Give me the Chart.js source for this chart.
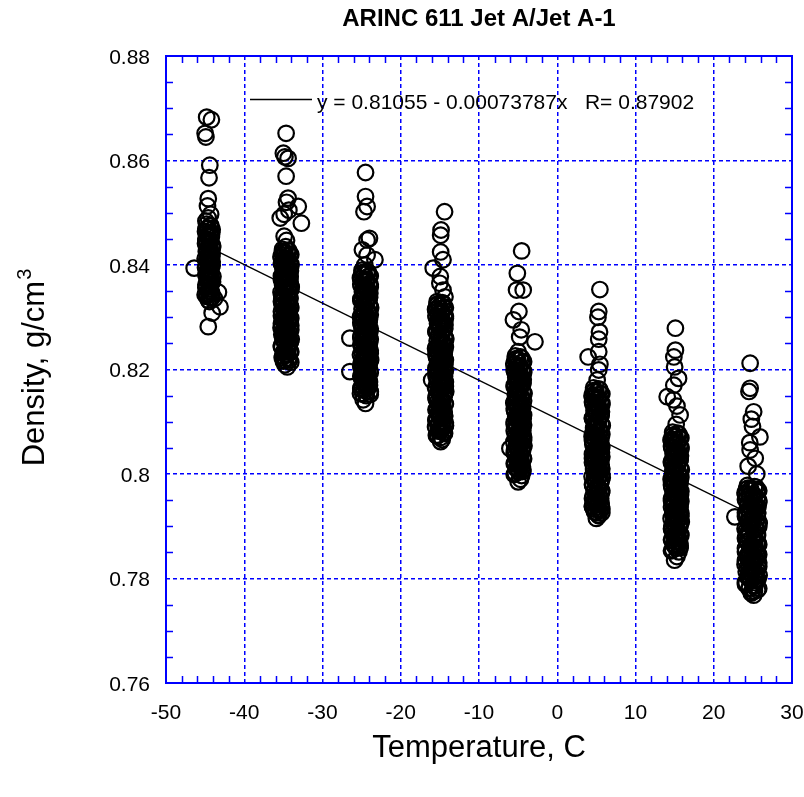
<!DOCTYPE html>
<html>
<head>
<meta charset="utf-8">
<title>ARINC 611 Jet A/Jet A-1</title>
<script src="https://cdn.jsdelivr.net/npm/chart.js@4.4.1/dist/chart.umd.min.js"></script>
<style>
  html, body { margin: 0; padding: 0; background: #ffffff; }
  #wrap { width: 804px; height: 797px; }
</style>
</head>
<body>
<div id="wrap"><canvas id="c" width="804" height="797"></canvas></div>
<script>
// ---- text ----
const chartTitle = 'ARINC 611 Jet A/Jet A-1';
const xTitle = 'Temperature, C';
const yTitle = 'Density, g/cm';
const yTitleSup = '3';

// ---- axes ----
const xRange = [-50, 30];
const xStep = 10;
const xMinorStep = 2;
const yRange = [0.76, 0.88];
const yStep = 0.02;
const yMinorStep = 0.005;

// ---- linear fit: density = a + b * T ----
const fitIntercept = 0.81055;
const fitSlope = -0.00073787;
const fitR = 0.87902;
const fitSpan = [-45.5, 26];

// ---- density samples, [temperature C, density g/cm3], grouped by test temperature ----
const atMinus45 = [
  [-44.8,0.8683],[-44.2,0.8678],[-45.0,0.8652],[-44.9,0.8645],[-44.4,0.8591],[-44.5,0.8567],
  [-44.6,0.8527],[-44.7,0.8513],[-44.3,0.8497],[-44.6,0.8490],[-44.9,0.8484],[-46.4,0.8394],
  [-43.3,0.8348],[-43.1,0.8320],[-44.6,0.8282],[-44.1,0.8308],[-43.8,0.8336],
  [-44.8,0.8478],[-44.25,0.8475],[-44.6,0.8471],[-44.1,0.8468],[-44.95,0.8464],[-44.45,0.8461],
  [-44.7,0.8457],[-44.2,0.8454],[-44.9,0.8450],[-44.5,0.8447],[-44.3,0.8444],[-44.75,0.8440],
  [-44.05,0.8437],[-44.55,0.8433],[-44.35,0.8430],[-44.85,0.8426],[-44.4,0.8423],[-44.65,0.8419],
  [-44.15,0.8416],[-45.0,0.8412],[-44.8,0.8409],[-44.25,0.8406],[-44.6,0.8402],[-44.1,0.8399],
  [-44.95,0.8395],[-44.45,0.8392],[-44.7,0.8388],[-44.2,0.8385],[-44.9,0.8381],[-44.5,0.8378],
  [-44.3,0.8375],[-44.75,0.8371],[-44.05,0.8368],[-44.55,0.8364],[-44.35,0.8361],[-44.85,0.8357],
  [-44.4,0.8354],[-44.65,0.8350],[-44.15,0.8347],[-45.0,0.8343],[-44.8,0.8340],[-44.25,0.8337],
  [-44.6,0.8333],[-44.45,0.8330],
  [-44.35,0.8476],[-44.9,0.8469],[-44.15,0.8462],[-44.65,0.8455],[-44.45,0.8448],[-44.95,0.8441],
  [-44.05,0.8434],[-44.75,0.8427],[-44.25,0.8420],[-44.55,0.8413],[-44.1,0.8406],[-44.85,0.8399],
  [-44.4,0.8392],[-44.7,0.8385],[-44.0,0.8378],[-44.6,0.8371],[-44.2,0.8364],[-44.9,0.8357],
  [-44.3,0.8350],[-44.75,0.8343],
  [-44.75,0.8470],[-44.2,0.8458],[-44.9,0.8446],[-44.4,0.8434],[-44.1,0.8422],[-44.6,0.8410],
  [-44.3,0.8398],[-44.75,0.8386],[-44.2,0.8374],[-44.9,0.8362],[-44.4,0.8350],[-44.1,0.8338]
];
const atMinus35 = [
  [-34.65,0.8652],[-35.0,0.8614],[-34.8,0.8607],[-34.4,0.8604],[-34.65,0.8570],[-34.4,0.8528],
  [-34.6,0.8520],[-33.1,0.8512],[-34.3,0.8505],[-35.4,0.8490],[-34.9,0.8497],[-32.7,0.8480],
  [-34.9,0.8455],[-34.6,0.8447],[-34.7,0.8435],[-34.5,0.8205],[-34.8,0.8209],
  [-35.1,0.8430],[-34.3,0.8427],[-34.8,0.8423],[-34.05,0.8420],[-35.3,0.8416],[-34.55,0.8413],
  [-34.95,0.8410],[-34.2,0.8406],[-35.2,0.8403],[-34.65,0.8399],[-34.4,0.8396],[-35.05,0.8393],
  [-34.1,0.8389],[-34.75,0.8386],[-34.35,0.8382],[-35.25,0.8379],[-34.5,0.8376],[-34.9,0.8372],
  [-34.15,0.8369],[-34.7,0.8365],[-35.1,0.8362],[-34.3,0.8359],[-34.8,0.8355],[-34.05,0.8352],
  [-35.3,0.8348],[-34.55,0.8345],[-34.95,0.8342],[-34.2,0.8338],[-35.2,0.8335],[-34.65,0.8331],
  [-34.4,0.8328],[-35.05,0.8325],[-34.1,0.8321],[-34.75,0.8318],[-34.35,0.8314],[-35.25,0.8311],
  [-34.5,0.8308],[-34.9,0.8304],[-34.15,0.8301],[-34.7,0.8297],[-35.1,0.8294],[-34.3,0.8291],
  [-34.8,0.8287],[-34.05,0.8284],[-35.3,0.8280],[-34.55,0.8277],[-34.95,0.8274],[-34.2,0.8270],
  [-35.2,0.8267],[-34.65,0.8263],[-34.4,0.8260],[-35.05,0.8257],[-34.1,0.8253],[-34.75,0.8250],
  [-34.35,0.8246],[-35.25,0.8243],[-34.5,0.8240],[-34.9,0.8236],[-34.15,0.8233],[-34.7,0.8229],
  [-35.1,0.8226],[-34.3,0.8222],[-34.8,0.8218],[-34.05,0.8214],
  [-34.45,0.8428],[-35.15,0.8423],[-34.2,0.8418],[-34.85,0.8413],[-34.6,0.8408],[-35.25,0.8403],
  [-34.05,0.8398],[-35.0,0.8393],[-34.35,0.8388],[-34.7,0.8383],[-34.15,0.8378],[-35.1,0.8373],
  [-34.55,0.8368],[-34.9,0.8363],[-34.0,0.8358],[-34.8,0.8353],[-34.25,0.8348],[-35.2,0.8343],
  [-34.4,0.8338],[-34.95,0.8333],[-34.45,0.8328],[-35.15,0.8323],[-34.2,0.8318],[-34.85,0.8313],
  [-34.6,0.8308],[-35.25,0.8303],[-34.05,0.8298],[-35.0,0.8293],[-34.35,0.8288],[-34.7,0.8283],
  [-34.15,0.8278],[-35.1,0.8273],[-34.55,0.8268],[-34.9,0.8263],[-34.0,0.8258],[-34.8,0.8253],
  [-34.25,0.8248],[-35.2,0.8243],[-34.4,0.8238],[-34.95,0.8233],[-34.45,0.8228],[-35.15,0.8223],
  [-34.2,0.8218],
  [-35.0,0.8426],[-34.15,0.8420],[-35.25,0.8414],[-34.5,0.8408],[-34.05,0.8402],[-34.75,0.8396],
  [-34.3,0.8390],[-35.0,0.8384],[-34.15,0.8378],[-35.25,0.8372],[-34.5,0.8366],[-34.05,0.8360],
  [-34.75,0.8354],[-34.3,0.8348],[-35.0,0.8342],[-34.15,0.8336],[-35.25,0.8330],[-34.5,0.8324],
  [-34.05,0.8318],[-34.75,0.8312],[-34.3,0.8306],[-35.0,0.8300],[-34.15,0.8294],[-35.25,0.8288],
  [-34.5,0.8282],[-34.05,0.8276],[-34.75,0.8270],[-34.3,0.8264],[-35.0,0.8258],[-34.15,0.8252],
  [-35.25,0.8246],[-34.5,0.8240],[-34.05,0.8234],[-34.75,0.8228],[-34.3,0.8222],[-35.0,0.8216]
];
const atMinus25 = [
  [-24.5,0.8577],[-24.5,0.8531],[-24.7,0.8502],[-24.3,0.8512],[-24.3,0.8448],[-24.0,0.8451],
  [-24.9,0.8429],[-23.3,0.8410],[-24.3,0.8419],[-24.6,0.8400],[-26.5,0.8260],[-26.5,0.8196],
  [-24.5,0.8135],[-24.8,0.8142],
  [-24.95,0.8390],[-24.15,0.8386],[-24.65,0.8383],[-23.9,0.8379],[-25.15,0.8375],[-24.4,0.8372],
  [-24.8,0.8368],[-24.05,0.8364],[-25.05,0.8360],[-24.5,0.8357],[-24.25,0.8353],[-24.9,0.8349],
  [-23.95,0.8346],[-24.6,0.8342],[-24.2,0.8338],[-25.1,0.8335],[-24.35,0.8331],[-24.75,0.8327],
  [-24.0,0.8324],[-24.55,0.8320],[-24.95,0.8316],[-24.15,0.8312],[-24.65,0.8309],[-23.9,0.8305],
  [-25.15,0.8301],[-24.4,0.8298],[-24.8,0.8294],[-24.05,0.8290],[-25.05,0.8287],[-24.5,0.8283],
  [-24.25,0.8279],[-24.9,0.8276],[-23.95,0.8272],[-24.6,0.8268],[-24.2,0.8264],[-25.1,0.8261],
  [-24.35,0.8257],[-24.75,0.8253],[-24.0,0.8250],[-24.55,0.8246],[-24.95,0.8242],[-24.15,0.8239],
  [-24.65,0.8235],[-23.9,0.8231],[-25.15,0.8228],[-24.4,0.8224],[-24.8,0.8220],[-24.05,0.8216],
  [-25.05,0.8213],[-24.5,0.8209],[-24.25,0.8205],[-24.9,0.8202],[-23.95,0.8198],[-24.6,0.8194],
  [-24.2,0.8191],[-25.1,0.8187],[-24.35,0.8183],[-24.75,0.8180],[-24.0,0.8176],[-24.55,0.8172],
  [-24.95,0.8168],[-24.15,0.8165],[-24.65,0.8161],[-23.9,0.8157],[-25.15,0.8154],[-24.4,0.8150],
  [-24.3,0.8388],[-25.0,0.8383],[-24.05,0.8378],[-24.7,0.8373],[-24.45,0.8368],[-25.1,0.8363],
  [-23.9,0.8358],[-24.85,0.8353],[-24.2,0.8348],[-24.55,0.8343],[-24.0,0.8338],[-24.95,0.8333],
  [-24.4,0.8328],[-24.75,0.8323],[-23.85,0.8318],[-24.65,0.8313],[-24.1,0.8308],[-25.05,0.8303],
  [-24.25,0.8298],[-24.8,0.8293],[-24.3,0.8288],[-25.0,0.8283],[-24.05,0.8278],[-24.7,0.8273],
  [-24.45,0.8268],[-25.1,0.8263],[-23.9,0.8258],[-24.85,0.8253],[-24.2,0.8248],[-24.55,0.8243],
  [-24.0,0.8238],[-24.95,0.8233],[-24.4,0.8228],[-24.75,0.8223],[-23.85,0.8218],[-24.65,0.8213],
  [-24.1,0.8208],[-25.05,0.8203],[-24.25,0.8198],[-24.8,0.8193],[-24.3,0.8188],[-25.0,0.8183],
  [-24.05,0.8178],[-24.7,0.8173],[-24.45,0.8168],[-25.1,0.8163],[-23.9,0.8158],[-24.85,0.8153],
  [-24.85,0.8386],[-24.0,0.8380],[-25.1,0.8374],[-24.35,0.8368],[-23.9,0.8362],[-24.6,0.8356],
  [-24.15,0.8350],[-24.85,0.8344],[-24.0,0.8338],[-25.1,0.8332],[-24.35,0.8326],[-23.9,0.8320],
  [-24.6,0.8314],[-24.15,0.8308],[-24.85,0.8302],[-24.0,0.8296],[-25.1,0.8290],[-24.35,0.8284],
  [-23.9,0.8278],[-24.6,0.8272],[-24.15,0.8266],[-24.85,0.8260],[-24.0,0.8254],[-25.1,0.8248],
  [-24.35,0.8242],[-23.9,0.8236],[-24.6,0.8230],[-24.15,0.8224],[-24.85,0.8218],[-24.0,0.8212],
  [-25.1,0.8206],[-24.35,0.8200],[-23.9,0.8194],[-24.6,0.8188],[-24.15,0.8182],[-24.85,0.8176],
  [-24.0,0.8170],[-25.1,0.8164],[-24.35,0.8158],[-23.9,0.8152]
];
const atMinus15 = [
  [-14.4,0.8502],[-14.85,0.8467],[-14.9,0.8457],[-14.9,0.8425],[-14.6,0.8410],[-15.85,0.8394],
  [-14.95,0.8378],[-14.6,0.8352],[-14.35,0.8339],[-15.0,0.8365],[-16.05,0.8180],[-14.9,0.8062],
  [-14.7,0.8066],
  [-15.35,0.8330],[-14.55,0.8326],[-15.05,0.8322],[-14.3,0.8318],[-15.55,0.8315],[-14.8,0.8311],
  [-15.2,0.8307],[-14.45,0.8303],[-15.45,0.8300],[-14.9,0.8296],[-14.65,0.8292],[-15.3,0.8288],
  [-14.35,0.8285],[-15.0,0.8281],[-14.6,0.8277],[-15.5,0.8273],[-14.75,0.8270],[-15.15,0.8266],
  [-14.4,0.8262],[-14.95,0.8258],[-15.35,0.8255],[-14.55,0.8251],[-15.05,0.8247],[-14.3,0.8243],
  [-15.55,0.8240],[-14.8,0.8236],[-15.2,0.8232],[-14.45,0.8228],[-15.45,0.8225],[-14.9,0.8221],
  [-14.65,0.8217],[-15.3,0.8213],[-14.35,0.8210],[-15.0,0.8206],[-14.6,0.8202],[-15.5,0.8198],
  [-14.75,0.8195],[-15.15,0.8191],[-14.4,0.8187],[-14.95,0.8183],[-15.35,0.8180],[-14.55,0.8176],
  [-15.05,0.8172],[-14.3,0.8168],[-15.55,0.8165],[-14.8,0.8161],[-15.2,0.8157],[-14.45,0.8153],
  [-15.45,0.8150],[-14.9,0.8146],[-14.65,0.8142],[-15.3,0.8138],[-14.35,0.8135],[-15.0,0.8131],
  [-14.6,0.8127],[-15.5,0.8123],[-14.75,0.8120],[-15.15,0.8116],[-14.4,0.8112],[-14.95,0.8108],
  [-15.35,0.8105],[-14.55,0.8101],[-15.05,0.8097],[-14.3,0.8093],[-15.55,0.8090],[-14.8,0.8086],
  [-15.2,0.8082],[-14.45,0.8078],[-15.45,0.8074],[-14.9,0.8070],
  [-14.7,0.8328],[-15.4,0.8323],[-14.45,0.8318],[-15.1,0.8313],[-14.85,0.8308],[-15.5,0.8303],
  [-14.3,0.8298],[-15.25,0.8293],[-14.6,0.8288],[-14.95,0.8283],[-14.4,0.8278],[-15.35,0.8273],
  [-14.8,0.8268],[-15.15,0.8263],[-14.25,0.8258],[-15.05,0.8253],[-14.5,0.8248],[-15.45,0.8243],
  [-14.65,0.8238],[-15.2,0.8233],[-14.7,0.8228],[-15.4,0.8223],[-14.45,0.8218],[-15.1,0.8213],
  [-14.85,0.8208],[-15.5,0.8203],[-14.3,0.8198],[-15.25,0.8193],[-14.6,0.8188],[-14.95,0.8183],
  [-14.4,0.8178],[-15.35,0.8173],[-14.8,0.8168],[-15.15,0.8163],[-14.25,0.8158],[-15.05,0.8153],
  [-14.5,0.8148],[-15.45,0.8143],[-14.65,0.8138],[-15.2,0.8133],[-14.7,0.8128],[-15.4,0.8123],
  [-14.45,0.8118],[-15.1,0.8113],[-14.85,0.8108],[-15.5,0.8103],[-14.3,0.8098],[-15.25,0.8093],
  [-14.6,0.8088],[-14.95,0.8083],[-14.4,0.8078],[-15.35,0.8073],
  [-15.25,0.8326],[-14.4,0.8320],[-15.5,0.8314],[-14.75,0.8308],[-14.3,0.8302],[-15.0,0.8296],
  [-14.55,0.8290],[-15.25,0.8284],[-14.4,0.8278],[-15.5,0.8272],[-14.75,0.8266],[-14.3,0.8260],
  [-15.0,0.8254],[-14.55,0.8248],[-15.25,0.8242],[-14.4,0.8236],[-15.5,0.8230],[-14.75,0.8224],
  [-14.3,0.8218],[-15.0,0.8212],[-14.55,0.8206],[-15.25,0.8200],[-14.4,0.8194],[-15.5,0.8188],
  [-14.75,0.8182],[-14.3,0.8176],[-15.0,0.8170],[-14.55,0.8164],[-15.25,0.8158],[-14.4,0.8152],
  [-15.5,0.8146],[-14.75,0.8140],[-14.3,0.8134],[-15.0,0.8128],[-14.55,0.8122],[-15.25,0.8116],
  [-14.4,0.8110],[-15.5,0.8104],[-14.75,0.8098],[-14.3,0.8092],[-15.0,0.8086],[-14.55,0.8080],
  [-15.25,0.8074]
];
const atMinus5 = [
  [-4.55,0.8427],[-5.1,0.8384],[-5.2,0.8352],[-4.35,0.8352],[-4.9,0.8311],[-5.6,0.8295],
  [-4.6,0.8276],[-4.8,0.8262],[-2.85,0.8253],[-5.0,0.8234],[-6.05,0.8049],[-5.0,0.7985],
  [-4.7,0.7990],
  [-5.35,0.8226],[-4.55,0.8222],[-5.05,0.8218],[-4.3,0.8215],[-5.55,0.8211],[-4.8,0.8207],
  [-5.2,0.8203],[-4.45,0.8200],[-5.45,0.8196],[-4.9,0.8192],[-4.65,0.8188],[-5.3,0.8185],
  [-4.35,0.8181],[-5.0,0.8177],[-4.6,0.8173],[-5.5,0.8170],[-4.75,0.8166],[-5.15,0.8162],
  [-4.4,0.8158],[-4.95,0.8155],[-5.35,0.8151],[-4.55,0.8147],[-5.05,0.8143],[-4.3,0.8140],
  [-5.55,0.8136],[-4.8,0.8132],[-5.2,0.8128],[-4.45,0.8125],[-5.45,0.8121],[-4.9,0.8117],
  [-4.65,0.8113],[-5.3,0.8110],[-4.35,0.8106],[-5.0,0.8102],[-4.6,0.8098],[-5.5,0.8095],
  [-4.75,0.8091],[-5.15,0.8087],[-4.4,0.8083],[-4.95,0.8080],[-5.35,0.8076],[-4.55,0.8072],
  [-5.05,0.8068],[-4.3,0.8065],[-5.55,0.8061],[-4.8,0.8057],[-5.2,0.8053],[-4.45,0.8050],
  [-5.45,0.8046],[-4.9,0.8042],[-4.65,0.8038],[-5.3,0.8035],[-4.35,0.8031],[-5.0,0.8027],
  [-4.6,0.8023],[-5.5,0.8020],[-4.75,0.8016],[-5.15,0.8012],[-4.4,0.8008],[-4.95,0.8005],
  [-5.35,0.8001],[-4.55,0.7997],
  [-4.7,0.8224],[-5.4,0.8219],[-4.45,0.8214],[-5.1,0.8209],[-4.85,0.8204],[-5.5,0.8199],
  [-4.3,0.8194],[-5.25,0.8189],[-4.6,0.8184],[-4.95,0.8179],[-4.4,0.8174],[-5.35,0.8169],
  [-4.8,0.8164],[-5.15,0.8159],[-4.25,0.8154],[-5.05,0.8149],[-4.5,0.8144],[-5.45,0.8139],
  [-4.65,0.8134],[-5.2,0.8129],[-4.7,0.8124],[-5.4,0.8119],[-4.45,0.8114],[-5.1,0.8109],
  [-4.85,0.8104],[-5.5,0.8099],[-4.3,0.8094],[-5.25,0.8089],[-4.6,0.8084],[-4.95,0.8079],
  [-4.4,0.8074],[-5.35,0.8069],[-4.8,0.8064],[-5.15,0.8059],[-4.25,0.8054],[-5.05,0.8049],
  [-4.5,0.8044],[-5.45,0.8039],[-4.65,0.8034],[-5.2,0.8029],[-4.7,0.8024],[-5.4,0.8019],
  [-4.45,0.8014],[-5.1,0.8009],[-4.85,0.8004],[-5.5,0.7999],
  [-5.25,0.8221],[-4.4,0.8215],[-5.5,0.8209],[-4.75,0.8203],[-4.3,0.8197],[-5.0,0.8191],
  [-4.55,0.8185],[-5.25,0.8179],[-4.4,0.8173],[-5.5,0.8167],[-4.75,0.8161],[-4.3,0.8155],
  [-5.0,0.8149],[-4.55,0.8143],[-5.25,0.8137],[-4.4,0.8131],[-5.5,0.8125],[-4.75,0.8119],
  [-4.3,0.8113],[-5.0,0.8107],[-4.55,0.8101],[-5.25,0.8095],[-4.4,0.8089],[-5.5,0.8083],
  [-4.75,0.8077],[-4.3,0.8071],[-5.0,0.8065],[-4.55,0.8059],[-5.25,0.8053],[-4.4,0.8047],
  [-5.5,0.8041],[-4.75,0.8035],[-4.3,0.8029],[-5.0,0.8023],[-4.55,0.8017],[-5.25,0.8011],
  [-4.4,0.8005]
];
const atPlus5 = [
  [5.45,0.8353],[5.3,0.8311],[5.2,0.8300],[5.4,0.8272],[5.3,0.8258],[3.95,0.8224],
  [5.3,0.8234],[5.45,0.8210],[5.3,0.8199],[5.1,0.8180],[5.0,0.7915],[5.3,0.7920],
  [4.65,0.8165],[5.45,0.8161],[4.95,0.8157],[5.7,0.8153],[4.45,0.8150],[5.2,0.8146],
  [4.8,0.8142],[5.55,0.8138],[4.55,0.8134],[5.1,0.8130],[5.35,0.8126],[4.7,0.8122],
  [5.65,0.8119],[5.0,0.8115],[5.4,0.8111],[4.5,0.8107],[5.25,0.8103],[4.85,0.8099],
  [5.6,0.8095],[5.05,0.8092],[4.65,0.8088],[5.45,0.8084],[4.95,0.8080],[5.7,0.8076],
  [4.45,0.8072],[5.2,0.8068],[4.8,0.8065],[5.55,0.8061],[4.55,0.8057],[5.1,0.8053],
  [5.35,0.8049],[4.7,0.8045],[5.65,0.8041],[5.0,0.8038],[5.4,0.8034],[4.5,0.8030],
  [5.25,0.8026],[4.85,0.8022],[5.6,0.8018],[5.05,0.8014],[4.65,0.8011],[5.45,0.8007],
  [4.95,0.8003],[5.7,0.7999],[4.45,0.7995],[5.2,0.7991],[4.8,0.7987],[5.55,0.7984],
  [4.55,0.7980],[5.1,0.7976],[5.35,0.7972],[4.7,0.7968],[5.65,0.7964],[5.0,0.7960],
  [5.4,0.7957],[4.5,0.7953],[5.25,0.7949],[4.85,0.7945],[5.6,0.7941],[5.05,0.7937],
  [4.65,0.7933],[5.45,0.7930],[4.95,0.7926],[5.2,0.7922],
  [5.3,0.8163],[4.6,0.8158],[5.55,0.8153],[4.9,0.8148],[5.15,0.8143],[4.5,0.8138],
  [5.7,0.8133],[4.75,0.8128],[5.4,0.8123],[5.05,0.8118],[5.6,0.8113],[4.65,0.8108],
  [5.2,0.8103],[4.85,0.8098],[5.75,0.8093],[4.95,0.8088],[5.5,0.8083],[4.55,0.8078],
  [5.35,0.8073],[4.8,0.8068],[5.3,0.8063],[4.6,0.8058],[5.55,0.8053],[4.9,0.8048],
  [5.15,0.8043],[4.5,0.8038],[5.7,0.8033],[4.75,0.8028],[5.4,0.8023],[5.05,0.8018],
  [5.6,0.8013],[4.65,0.8008],[5.2,0.8003],[4.85,0.7998],[5.75,0.7993],[4.95,0.7988],
  [5.5,0.7983],[4.55,0.7978],[5.35,0.7973],[4.8,0.7968],[5.3,0.7963],[4.6,0.7958],
  [5.55,0.7953],[4.9,0.7948],[5.15,0.7943],[4.5,0.7938],[5.7,0.7933],[4.75,0.7928],
  [4.75,0.8160],[5.6,0.8154],[4.5,0.8148],[5.25,0.8142],[5.7,0.8136],[5.0,0.8130],
  [5.45,0.8124],[4.75,0.8118],[5.6,0.8112],[4.5,0.8106],[5.25,0.8100],[5.7,0.8094],
  [5.0,0.8088],[5.45,0.8082],[4.75,0.8076],[5.6,0.8070],[4.5,0.8064],[5.25,0.8058],
  [5.7,0.8052],[5.0,0.8046],[5.45,0.8040],[4.75,0.8034],[5.6,0.8028],[4.5,0.8022],
  [5.25,0.8016],[5.7,0.8010],[5.0,0.8004],[5.45,0.7998],[4.75,0.7992],[5.6,0.7986],
  [4.5,0.7980],[5.25,0.7974],[5.7,0.7968],[5.0,0.7962],[5.45,0.7956],[4.75,0.7950],
  [5.6,0.7944],[4.5,0.7938],[5.25,0.7932],[5.7,0.7926]
];
const atPlus15 = [
  [15.1,0.8279],[15.1,0.8237],[14.9,0.8224],[15.0,0.8205],[15.5,0.8183],[14.9,0.8170],
  [14.05,0.8148],[14.85,0.8142],[15.3,0.8130],[15.7,0.8113],[15.2,0.8095],[15.0,0.7835],
  [15.3,0.7842],
  [14.75,0.8080],[15.55,0.8076],[15.05,0.8072],[15.8,0.8069],[14.55,0.8065],[15.3,0.8061],
  [14.9,0.8057],[15.65,0.8054],[14.65,0.8050],[15.2,0.8046],[15.45,0.8042],[14.8,0.8039],
  [15.75,0.8035],[15.1,0.8031],[15.5,0.8027],[14.6,0.8024],[15.35,0.8020],[14.95,0.8016],
  [15.7,0.8012],[15.15,0.8009],[14.75,0.8005],[15.55,0.8001],[15.05,0.7997],[15.8,0.7994],
  [14.55,0.7990],[15.3,0.7986],[14.9,0.7982],[15.65,0.7979],[14.65,0.7975],[15.2,0.7971],
  [15.45,0.7967],[14.8,0.7964],[15.75,0.7960],[15.1,0.7956],[15.5,0.7952],[14.6,0.7949],
  [15.35,0.7945],[14.95,0.7941],[15.7,0.7937],[15.15,0.7934],[14.75,0.7930],[15.55,0.7926],
  [15.05,0.7922],[15.8,0.7919],[14.55,0.7915],[15.3,0.7911],[14.9,0.7907],[15.65,0.7904],
  [14.65,0.7900],[15.2,0.7896],[15.45,0.7892],[14.8,0.7889],[15.75,0.7885],[15.1,0.7881],
  [15.5,0.7877],[14.6,0.7874],[15.35,0.7870],[14.95,0.7866],[15.7,0.7862],[15.15,0.7859],
  [14.75,0.7855],[15.55,0.7851],
  [15.4,0.8078],[14.7,0.8073],[15.65,0.8068],[15.0,0.8063],[15.25,0.8058],[14.6,0.8053],
  [15.8,0.8048],[14.85,0.8043],[15.5,0.8038],[15.15,0.8033],[15.7,0.8028],[14.75,0.8023],
  [15.3,0.8018],[14.95,0.8013],[15.85,0.8008],[15.05,0.8003],[15.6,0.7998],[14.65,0.7993],
  [15.45,0.7988],[14.9,0.7983],[15.4,0.7978],[14.7,0.7973],[15.65,0.7968],[15.0,0.7963],
  [15.25,0.7958],[14.6,0.7953],[15.8,0.7948],[14.85,0.7943],[15.5,0.7938],[15.15,0.7933],
  [15.7,0.7928],[14.75,0.7923],[15.3,0.7918],[14.95,0.7913],[15.85,0.7908],[15.05,0.7903],
  [15.6,0.7898],[14.65,0.7893],[15.45,0.7888],[14.9,0.7883],[15.4,0.7878],[14.7,0.7873],
  [15.65,0.7868],[15.0,0.7863],[15.25,0.7858],[14.6,0.7853],
  [14.85,0.8075],[15.7,0.8069],[14.6,0.8063],[15.35,0.8057],[15.8,0.8051],[15.1,0.8045],
  [15.55,0.8039],[14.85,0.8033],[15.7,0.8027],[14.6,0.8021],[15.35,0.8015],[15.8,0.8009],
  [15.1,0.8003],[15.55,0.7997],[14.85,0.7991],[15.7,0.7985],[14.6,0.7979],[15.35,0.7973],
  [15.8,0.7967],[15.1,0.7961],[15.55,0.7955],[14.85,0.7949],[15.7,0.7943],[14.6,0.7937],
  [15.35,0.7931],[15.8,0.7925],[15.1,0.7919],[15.55,0.7913],[14.85,0.7907],[15.7,0.7901],
  [14.6,0.7895],[15.35,0.7889],[15.8,0.7883],[15.1,0.7877],[15.55,0.7871],[14.85,0.7865],
  [15.7,0.7859]
];
const atPlus25 = [
  [24.65,0.8212],[24.65,0.8164],[24.5,0.8158],[25.1,0.8119],[24.8,0.8105],[24.95,0.8091],
  [25.9,0.8071],[24.6,0.8060],[24.65,0.8046],[25.3,0.8030],[24.4,0.8015],[25.5,0.8000],
  [22.7,0.7918],[25.1,0.7768],[24.8,0.7772],
  [24.3,0.7978],[25.4,0.7975],[24.7,0.7971],[25.75,0.7968],[24.0,0.7964],[25.05,0.7961],
  [24.5,0.7957],[25.55,0.7954],[24.15,0.7951],[24.9,0.7947],[25.25,0.7944],[24.35,0.7940],
  [25.65,0.7937],[24.75,0.7933],[25.3,0.7930],[24.05,0.7926],[25.1,0.7923],[24.55,0.7920],
  [25.6,0.7916],[24.85,0.7913],[24.3,0.7909],[25.4,0.7906],[24.7,0.7902],[25.75,0.7899],
  [24.0,0.7895],[25.05,0.7892],[24.5,0.7889],[25.55,0.7885],[24.15,0.7882],[24.9,0.7878],
  [25.25,0.7875],[24.35,0.7871],[25.65,0.7868],[24.75,0.7864],[25.3,0.7861],[24.05,0.7858],
  [25.1,0.7854],[24.55,0.7851],[25.6,0.7847],[24.85,0.7844],[24.3,0.7840],[25.4,0.7837],
  [24.7,0.7833],[25.75,0.7830],[24.0,0.7827],[25.05,0.7823],[24.5,0.7820],[25.55,0.7816],
  [24.15,0.7813],[24.9,0.7809],[25.25,0.7806],[24.35,0.7802],[25.65,0.7799],[24.75,0.7796],
  [25.3,0.7792],[24.05,0.7789],[25.1,0.7785],[24.55,0.7782],[25.6,0.7778],[24.85,0.7775],
  [25.2,0.7976],[24.2,0.7971],[25.55,0.7966],[24.6,0.7961],[24.95,0.7956],[24.05,0.7951],
  [25.75,0.7946],[24.4,0.7941],[25.3,0.7936],[24.85,0.7931],[25.6,0.7926],[24.25,0.7921],
  [25.05,0.7916],[24.55,0.7911],[25.8,0.7906],[24.7,0.7901],[25.45,0.7896],[24.15,0.7891],
  [25.25,0.7886],[24.5,0.7881],[25.2,0.7876],[24.2,0.7871],[25.55,0.7866],[24.6,0.7861],
  [24.95,0.7856],[24.05,0.7851],[25.75,0.7846],[24.4,0.7841],[25.3,0.7836],[24.85,0.7831],
  [25.6,0.7826],[24.25,0.7821],[25.05,0.7816],[24.55,0.7811],[25.8,0.7806],[24.7,0.7801],
  [25.45,0.7796],[24.15,0.7791],[25.25,0.7786],[24.5,0.7781],[25.2,0.7776],
  [24.4,0.7973],[25.6,0.7967],[24.05,0.7961],[25.1,0.7955],[25.75,0.7949],[24.75,0.7943],
  [25.4,0.7937],[24.4,0.7931],[25.6,0.7925],[24.05,0.7919],[25.1,0.7913],[25.75,0.7907],
  [24.75,0.7901],[25.4,0.7895],[24.4,0.7889],[25.6,0.7883],[24.05,0.7877],[25.1,0.7871],
  [25.75,0.7865],[24.75,0.7859],[25.4,0.7853],[24.4,0.7847],[25.6,0.7841],[24.05,0.7835],
  [25.1,0.7829],[25.75,0.7823],[24.75,0.7817],[25.4,0.7811],[24.4,0.7805],[25.6,0.7799],
  [24.05,0.7793],[25.1,0.7787],[25.75,0.7781]
];

// ---- styling ----
const axisBlue = '#0000ff';
const fontFamily = "'Liberation Sans', Arial, Helvetica, sans-serif";

const samples = [atMinus45, atMinus35, atMinus25, atMinus15, atMinus5, atPlus5, atPlus15, atPlus25]
  .flat()
  .map(([t, d]) => ({ x: t, y: d }));

const fitAt = t => fitIntercept + fitSlope * t;
const fitLine = fitSpan.map(t => ({ x: t, y: fitAt(t) }));

const fmtY = v => String(+v.toFixed(2));

// frame, minor ticks, tick labels, titles and the fit legend
const decorations = {
  id: 'decorations',
  afterDraw(chart) {
    const { ctx, chartArea: a, scales: { x, y } } = chart;
    ctx.save();

    // minor tick marks on all four sides, pointing inward
    ctx.strokeStyle = axisBlue;
    ctx.lineWidth = 1.5;
    ctx.beginPath();
    const nx = Math.round((xRange[1] - xRange[0]) / xMinorStep);
    const xPer = Math.round(xStep / xMinorStep);
    for (let i = 1; i < nx; i++) {
      if (i % xPer === 0) continue;
      const px = Math.round(x.getPixelForValue(xRange[0] + i * xMinorStep)) + 0.5;
      ctx.moveTo(px, a.bottom); ctx.lineTo(px, a.bottom - 7);
      ctx.moveTo(px, a.top); ctx.lineTo(px, a.top + 7);
    }
    const ny = Math.round((yRange[1] - yRange[0]) / yMinorStep);
    const yPer = Math.round(yStep / yMinorStep);
    for (let i = 1; i < ny; i++) {
      if (i % yPer === 0) continue;
      const py = Math.round(y.getPixelForValue(yRange[0] + i * yMinorStep)) + 0.5;
      ctx.moveTo(a.left, py); ctx.lineTo(a.left + 7, py);
      ctx.moveTo(a.right, py); ctx.lineTo(a.right - 7, py);
    }
    ctx.stroke();

    // plot frame
    ctx.lineWidth = 2;
    ctx.strokeRect(a.left, a.top, a.right - a.left, a.bottom - a.top);

    // tick labels
    ctx.fillStyle = '#000';
    ctx.font = `21px ${fontFamily}`;
    ctx.textBaseline = 'alphabetic';
    ctx.textAlign = 'center';
    x.ticks.forEach(t => {
      ctx.fillText(String(t.value), x.getPixelForValue(t.value), a.bottom + 36);
    });
    ctx.textAlign = 'right';
    y.ticks.forEach(t => {
      ctx.fillText(fmtY(t.value), a.left - 16, y.getPixelForValue(t.value) + 7.5);
    });

    // chart title
    const cx = (a.left + a.right) / 2;
    ctx.textAlign = 'center';
    ctx.font = `bold 24px ${fontFamily}`;
    ctx.fillText(chartTitle, cx, 26);

    // axis titles
    ctx.font = `31px ${fontFamily}`;
    ctx.fillText(xTitle, cx, 757);

    ctx.save();
    ctx.translate(44, 368);
    ctx.rotate(-Math.PI / 2);
    ctx.font = `31px ${fontFamily}`;
    const w1 = ctx.measureText(yTitle).width;
    ctx.font = `20px ${fontFamily}`;
    const w2 = ctx.measureText(yTitleSup).width;
    const start = -(w1 + w2) / 2;
    ctx.textAlign = 'left';
    ctx.font = `31px ${fontFamily}`;
    ctx.fillText(yTitle, start, 0);
    ctx.font = `20px ${fontFamily}`;
    ctx.fillText(yTitleSup, start + w1 + 1, -13);
    ctx.restore();

    // fit legend
    ctx.strokeStyle = '#000';
    ctx.lineWidth = 1.3;
    ctx.beginPath();
    ctx.moveTo(250, 99.5); ctx.lineTo(312, 99.5);
    ctx.stroke();
    ctx.textAlign = 'left';
    ctx.font = `21px ${fontFamily}`;
    const legendText = `y = ${fitIntercept.toFixed(5)} - ${(-fitSlope).toFixed(8)}x   R= ${fitR.toFixed(5)}`;
    ctx.fillText(legendText, 317, 109);

    ctx.restore();
  }
};

new Chart(document.getElementById('c'), {
  type: 'scatter',
  data: {
    datasets: [
      {
        type: 'line',
        data: fitLine,
        borderColor: '#000',
        borderWidth: 1.3,
        pointRadius: 0,
        fill: false,
        order: 2
      },
      {
        type: 'scatter',
        data: samples,
        showLine: false,
        pointStyle: 'circle',
        pointRadius: 7.8,
        pointBorderWidth: 2.2,
        pointBorderColor: '#000',
        pointBackgroundColor: 'rgba(0,0,0,0)',
        order: 1
      }
    ]
  },
  options: {
    responsive: false,
    devicePixelRatio: 1,
    animation: false,
    events: [],
    layout: { padding: { left: 0, right: 12, top: 56, bottom: 0 } },
    plugins: {
      legend: { display: false },
      tooltip: { enabled: false },
      title: { display: false }
    },
    scales: {
      x: {
        type: 'linear',
        min: xRange[0],
        max: xRange[1],
        ticks: { stepSize: xStep, display: false },
        grid: { color: axisBlue, lineWidth: 1.5, drawTicks: false },
        border: { display: false, dash: [4, 3] },
        afterFit: s => { s.height = 114; }
      },
      y: {
        type: 'linear',
        min: yRange[0],
        max: yRange[1],
        ticks: { stepSize: yStep, display: false },
        grid: { color: axisBlue, lineWidth: 1.5, drawTicks: false },
        border: { display: false, dash: [4, 3] },
        afterFit: s => { s.width = 166; }
      }
    }
  },
  plugins: [decorations]
});
</script>
</body>
</html>
